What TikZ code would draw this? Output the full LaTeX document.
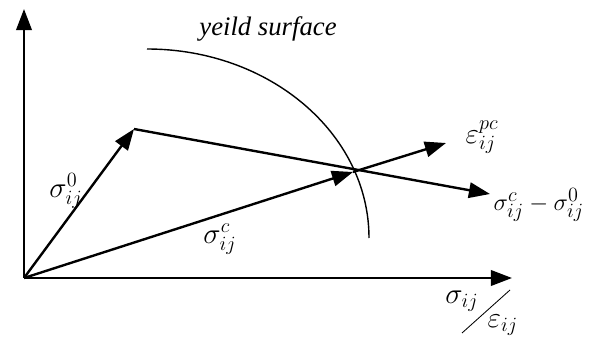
\documentclass[tikz,border=0pt]{standalone}
\usepackage{fontspec}
\setmainfont{Liberation Serif}
\usepackage{tikz}
\usetikzlibrary{arrows.meta}

\begin{document}
\begin{tikzpicture}[scale=1,
		vec/.style={line width=1.7pt, -{Triangle[length=15pt,width=11pt]}},
		lbl/.style={font=\fontsize{19}{22}\selectfont},
		mlbl/.style={font=\fontsize{22}{26}\selectfont, inner sep=1pt}]
		\useasboundingbox (0,0) rectangle (14.775,8.425);
		% Points
		\coordinate (O) at (0.6,1.475);
		\coordinate (ytop) at (0.6,8.2);
		\coordinate (xend) at (12.8,1.475);
		\coordinate (A) at (3.35,5.2);
		\coordinate (C) at (8.825,4.125);
		\coordinate (D) at (12.25,3.575);
		\coordinate (E) at (11.15,4.85);
		\coordinate (s1) at (12.75,1.175);
		\coordinate (s2) at (11.55,0.1);
		% Draw axes
		\draw[vec] (O) -- (ytop);
		\draw[vec] (O) -- (xend);
		% Yield surface
		\draw[line width=1pt] (3.675,7.2) arc[start angle=90,end angle=0,x radius=5.55,y radius=4.725];
		\node[lbl] (ys) at (6.7,7.7) {\textit{yeild surface}};
		% Vectors
		\draw[vec] (O) -- (A);
		\draw[vec] (O) -- (C);
		\draw[vec] (A) -- (D);
		\draw[vec] (C) -- (E);
		% Labels
		\node[mlbl] (s0) at (1.65,3.65) {$\sigma_{ij}^{0}$};
		\node[mlbl] (sc) at (5.5,2.45) {$\sigma_{ij}^{c}$};
		\node[mlbl] (epc) at (12.05,5.0) {$\varepsilon_{ij}^{pc}$};
		\node[mlbl, font=\fontsize{19}{22}\selectfont, anchor=west] (diff) at (12.3,3.3) {$\sigma_{ij}^{c}-\sigma_{ij}^{0}$};
		\draw[line width=0.6pt] (s1) -- (s2);
		\node[mlbl] (sij) at (11.55,0.9) {$\sigma_{ij}$};
		\node[mlbl, anchor=west] (eij) at (12.15,0.3) {$\varepsilon_{ij}$};

	\end{tikzpicture}
\end{document}
